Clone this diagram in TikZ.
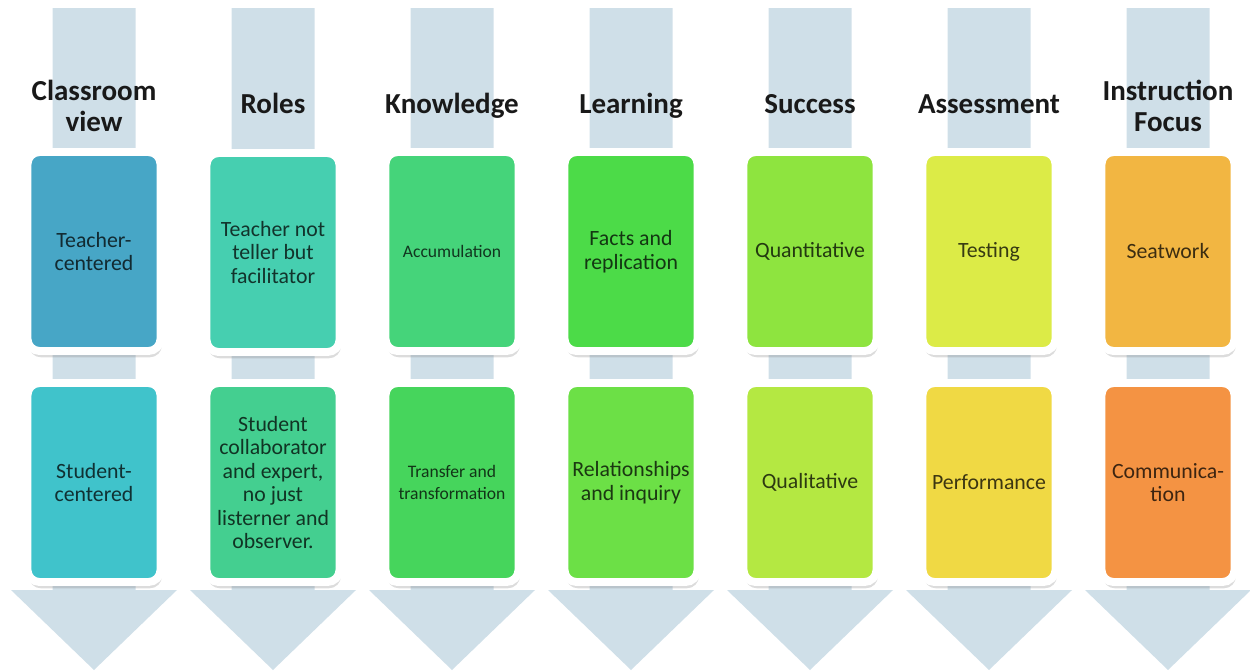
\documentclass[tikz,border=0pt]{standalone}
\usepackage{fontspec}
\setmainfont{Carlito}
\usetikzlibrary{shadows}
\definecolor{band}{RGB}{207,223,232}
\definecolor{cAt}{RGB}{71,166,198}
\definecolor{cAb}{RGB}{64,195,203}
\definecolor{cBt}{RGB}{70,207,176}
\definecolor{cBb}{RGB}{68,207,144}
\definecolor{cCt}{RGB}{69,212,122}
\definecolor{cCb}{RGB}{70,213,92}
\definecolor{cDt}{RGB}{76,219,72}
\definecolor{cDb}{RGB}{108,224,70}
\definecolor{cEt}{RGB}{142,228,63}
\definecolor{cEb}{RGB}{180,232,66}
\definecolor{cFt}{RGB}{220,235,71}
\definecolor{cFb}{RGB}{240,217,68}
\definecolor{cGt}{RGB}{242,182,66}
\definecolor{cGb}{RGB}{244,147,67}
\definecolor{headtext}{RGB}{25,25,25}
\begin{document}
\begin{tikzpicture}[x=0.02cm,y=-0.02cm,
  arrowband/.style={fill=band,draw=none},
  card/.style={rounded corners=0.24cm,draw=white,line width=4.5pt,
    minimum width=2.66cm,minimum height=3.98cm,align=center,inner sep=2pt,
    font=\fontsize{12.4}{13.4}\selectfont,
    drop shadow={shadow xshift=0.8pt,shadow yshift=-3.6pt,opacity=0.28}},
  small/.style={font=\fontsize{10}{12.6}\selectfont},
  head/.style={font=\bfseries\fontsize{16.5}{18.1}\selectfont,align=center,text=headtext},
  head1/.style={head,anchor=base}]
\useasboundingbox (0,0) rectangle (1250,670);
% arrows
\foreach \i in {0,...,6}{
  \pgfmathsetmacro{\cx}{94+179*\i}
  \fill[arrowband] (\cx-41.5,8) -- (\cx+41.5,8) -- (\cx+41.5,590) -- (\cx+83,590)
     -- (\cx,670) -- (\cx-83,590) -- (\cx-41.5,590) -- cycle;
}
% headers
\node[head] (h1) at (94,106) {Classroom\\view};
\node[head1] (h2) at (273,113) {Roles};
\node[head1] (h3) at (452,113) {Knowledge};
\node[head1] (h4) at (631,113) {Learning};
\node[head1] (h5) at (810,113) {Success};
\node[head1] (h6) at (989,113) {Assessment};
\node[head] (h7) at (1168,106) {Instruction\\Focus};
% top cards
\node[card,fill=cAt,text=cAt!25!black] (t1) at (94,251.5) {Teacher-\\centered};
\node[card,fill=cBt,text=cBt!25!black] (t2) at (273,252.5) {Teacher not\\teller but\\facilitator};
\node[card,fill=cCt,text=cCt!25!black,small] (t3) at (452,251.5) {Accumulation};
\node[card,fill=cDt,text=cDt!25!black] (t4) at (631,251.5) {Facts and\\replication};
\node[card,fill=cEt,text=cEt!25!black] (t5) at (810,251.5) {Quantitative};
\node[card,fill=cFt,text=cFt!25!black] (t6) at (989,251.5) {Testing};
\node[card,fill=cGt,text=cGt!25!black] (t7) at (1168,251.5) {Seatwork};
% bottom cards
\node[card,fill=cAb,text=cAb!25!black] (b1) at (94,482.5) {Student-\\centered};
\node[card,fill=cBb,text=cBb!25!black] (b2) at (273,482.5) {Student\\collaborator\\and expert,\\no just\\listerner and\\observer.};
\node[card,fill=cCb,text=cCb!25!black,small] (b3) at (452,482.5) {Transfer and\\transformation};
\node[card,fill=cDb,text=cDb!25!black] (b4) at (631,482.5) {Relationships\\and inquiry};
\node[card,fill=cEb,text=cEb!25!black] (b5) at (810,482.5) {Qualitative};
\node[card,fill=cFb,text=cFb!25!black] (b6) at (989,482.5) {Performance};
\node[card,fill=cGb,text=cGb!25!black] (b7) at (1168,482.5) {Communica-\\tion};
\end{tikzpicture}
\end{document}
